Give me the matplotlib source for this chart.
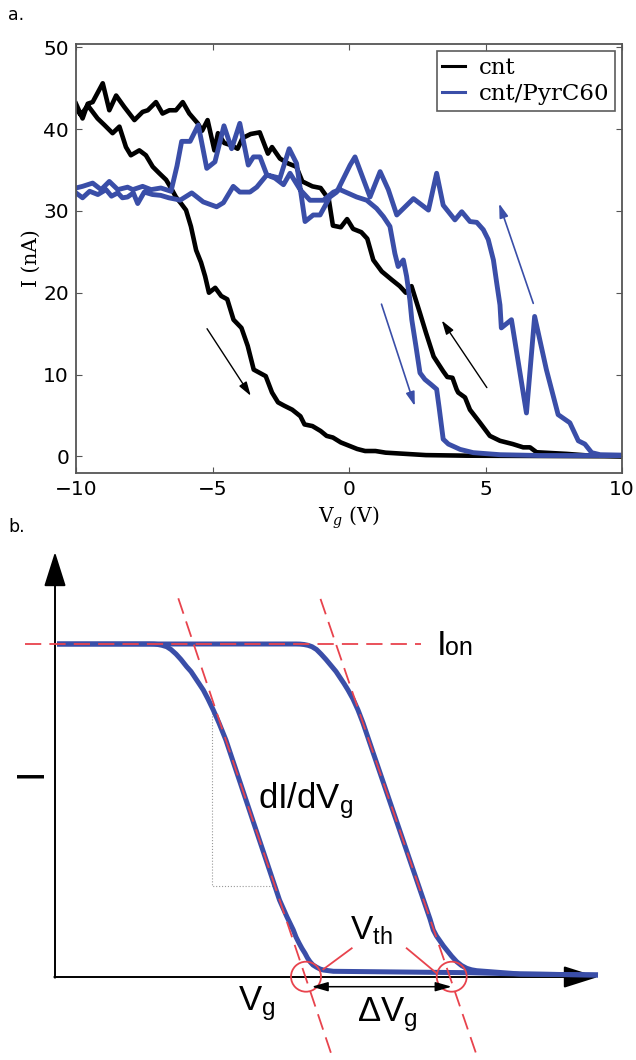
import numpy as np
import matplotlib
matplotlib.use('Agg')
import matplotlib.pyplot as plt
from matplotlib.lines import Line2D
from matplotlib.patches import Circle

plt.rcParams['mathtext.fontset'] = 'dejavuserif'

# ---- panel a: measured transfer curves (Vg in V, I in nA) ----
cnt_up_vg = [-10, -9.82, -9.57, -9.21, -8.96, -8.66, -8.41, -8.17, -7.99, -7.68, -7.44, -7.19,
             -6.95, -6.70, -6.52, -6.34, -6.15, -5.97, -5.79, -5.6, -5.42, -5.27, -5.13, -4.9,
             -4.68, -4.46, -4.23, -3.94, -3.71, -3.49, -3.27, -3.05, -2.82, -2.6, -2.38, -2.08,
             -1.78, -1.63, -1.34, -1.04, -0.82, -0.59, -0.3, 0, 0.3, 0.59, 0.97, 1.34, 2.08,
             2.82, 4.3, 6.5, 10]
cnt_up_i = [42.5, 41.7, 42.9, 41.3, 40.5, 39.5, 40.3, 37.8, 36.8, 37.4, 36.8, 35.4,
            34.6, 33.8, 32.8, 31.7, 30.9, 30.1, 28.1, 25.2, 23.7, 22.0, 20.0, 20.6,
            19.6, 19.2, 16.7, 15.7, 13.5, 10.6, 10.2, 9.8, 7.8, 6.6, 6.2, 5.7,
            4.9, 3.9, 3.7, 3.1, 2.5, 2.3, 1.7, 1.3, 0.9, 0.65, 0.65, 0.45, 0.3,
            0.15, 0.08, 0.05, 0.0]

cnt_down_vg = [-10, -9.76, -9.57, -9.39, -9.02, -8.78, -8.53, -8.23, -7.86, -7.56, -7.37, -7.07,
               -6.83, -6.58, -6.34, -6.09, -5.85, -5.54, -5.38, -5.18, -4.93, -4.8, -4.57, -4.3,
               -4.08, -3.9, -3.6, -3.27, -2.97, -2.82, -2.53, -2.23, -1.93, -1.71, -1.34, -1.04,
               -0.74, -0.59, -0.3, -0.07, 0.15, 0.45, 0.67, 0.89, 1.2, 1.56, 1.86, 2.08, 2.29,
               2.6, 2.82, 3.1, 3.45, 3.6, 3.79, 3.94, 4.0, 4.25, 4.43, 4.8, 5.16, 5.53, 6.0,
               6.38, 6.63, 6.87, 7.97, 8.77, 10]
cnt_down_i = [43.1, 41.3, 43.1, 43.3, 45.6, 42.3, 44.1, 42.7, 41.1, 42.1, 42.3, 43.3,
              41.9, 42.3, 42.3, 43.3, 41.9, 40.7, 39.8, 41.1, 37.4, 39.5, 38.3, 38.0,
              37.6, 38.9, 39.4, 39.6, 37.0, 37.8, 36.4, 35.8, 35.4, 33.6, 33.0, 32.8,
              31.4, 28.2, 28.0, 29.0, 27.8, 27.4, 26.6, 24.0, 22.6, 21.6, 20.8, 20.0, 20.8,
              17.5, 15.1, 12.2, 10.4, 9.7, 9.6, 8.2, 7.8, 7.2, 5.7, 4.1, 2.5, 1.9, 1.5,
              1.1, 1.1, 0.5, 0.3, 0.1, 0.05]

pyr_up_vg = [-10, -9.76, -9.5, -9.2, -8.9, -8.7, -8.47, -8.3, -8.11, -7.9, -7.74, -7.5, -7.2,
             -6.9, -6.6, -6.3, -6.19, -5.76, -5.34, -4.85, -4.6, -4.24, -4.0, -3.63, -3.38,
             -3.01, -2.71, -2.4, -2.16, -1.79, -1.43, -0.94, -0.57, -0.33, 0.28, 0.65, 1.01,
             1.26, 1.5, 1.68, 1.8, 1.99, 2.11, 2.23, 2.3, 2.45, 2.6, 2.78, 3.0, 3.21, 3.3,
             3.45, 3.64, 4.07, 4.55, 5.53, 7.0, 10]
pyr_up_i = [32.2, 31.6, 32.4, 32.0, 32.6, 31.8, 32.2, 31.6, 31.7, 32.2, 30.9, 32.3, 32.0,
            31.9, 31.6, 31.4, 31.3, 32.2, 31.1, 30.5, 31.0, 33.0, 32.3, 32.3, 32.9,
            34.4, 34.0, 33.2, 34.6, 32.6, 31.3, 31.3, 32.3, 32.6, 31.7, 31.3, 30.3,
            29.3, 28.1, 24.8, 23.2, 24.0, 22.0, 19.1, 16.7, 13.5, 10.2, 9.4, 8.8, 8.2, 6.0,
            2.1, 1.5, 0.85, 0.45, 0.2, 0.1, 0.1]

pyr_down_vg = [-10, -9.76, -9.39, -9.08, -8.78, -8.47, -8.11, -7.92, -7.56, -7.25, -6.89, -6.52,
               -6.3, -6.13, -5.82, -5.52, -5.21, -4.91, -4.58, -4.3, -4.0, -3.69, -3.5, -3.26,
               -3.01, -2.53, -2.19, -1.92, -1.61, -1.31, -1.06, -0.7, -0.45, 0.04, 0.22, 0.77,
               1.14, 1.44, 1.75, 2.36, 2.91, 3.21, 3.45, 3.88, 4.13, 4.43, 4.68, 4.92, 5.1,
               5.29, 5.41, 5.53, 5.58, 5.95, 6.5, 6.8, 7.23, 7.66, 8.09, 8.4, 8.64, 8.89, 9.2, 10]
pyr_down_i = [32.8, 33.0, 33.4, 32.6, 33.6, 32.6, 32.9, 32.6, 33.0, 32.6, 32.8, 32.4,
              35.5, 38.5, 38.5, 40.5, 35.2, 36.0, 40.4, 37.6, 40.7, 35.6, 36.6, 36.6,
              34.4, 34.0, 37.6, 35.8, 28.7, 29.5, 29.5, 31.7, 32.3, 35.6, 36.6, 31.7,
              34.8, 32.6, 29.5, 31.5, 30.1, 34.6, 30.7, 28.9, 29.9, 28.7, 28.6, 27.7, 26.5,
              24.0, 21.2, 18.5, 15.7, 16.7, 5.3, 17.1, 10.6, 5.1, 4.1, 1.9, 1.5, 0.45, 0.2, 0.15]

# sweep-direction arrows: (start Vg, start I, end Vg, end I)
cnt_arrows = [(-5.2, 15.6, -3.6, 7.4), (5.05, 8.4, 3.4, 16.6)]
pyr_arrows = [(1.19, 18.6, 2.41, 6.15), (6.75, 18.7, 5.5, 30.9)]

# ---- panel b: schematic (arbitrary units) ----
sch_left_vg = [0.2, 9.5, 9.9, 10.3, 10.7, 11.17, 11.6, 12.1, 12.6, 13.17, 13.6, 14.0, 14.4,
               14.83, 15.3, 15.83, 16.4, 17.09, 19.1, 21.11, 22.45, 23.2, 23.83, 24.1, 24.4,
               24.7, 25.0, 25.25, 25.5, 25.8, 26.17, 26.5, 26.83, 27.83, 34.5, 41.5, 46.5, 54.3]
sch_left_i = [33.3, 33.3, 33.29, 33.25, 33.17, 33.03, 32.75, 32.3, 31.75, 31.03, 30.55, 29.95,
              29.35, 28.7, 27.8, 26.7, 25.4, 23.7, 17.7, 11.7, 7.7, 6.0, 4.7, 4.0, 3.4,
              2.85, 2.37, 1.9, 1.53, 1.2, 0.97, 0.8, 0.7, 0.57, 0.5, 0.43, 0.3, 0.2]
sch_right_vg = [0.2, 24.1, 24.5, 24.9, 25.3, 25.7, 26.15, 26.6, 27.1, 27.7, 28.1, 28.5, 28.9,
                29.3, 29.8, 30.3, 30.8, 31.38, 33.43, 35.48, 36.85, 37.5, 37.83, 38.15, 38.5,
                38.85, 39.17, 39.65, 40.17, 40.65, 41.17, 41.65, 42.17, 46.5, 54.3]
sch_right_i = [33.3, 33.3, 33.29, 33.25, 33.17, 33.03, 32.75, 32.3, 31.75, 31.03, 30.55, 29.95,
               29.35, 28.7, 27.8, 26.7, 25.4, 23.7, 17.7, 11.7, 7.7, 5.8, 4.7, 4.1, 3.6,
               3.1, 2.7, 2.1, 1.53, 1.15, 0.87, 0.72, 0.63, 0.3, 0.2]
tangent_left = ([12.33, 27.83], [37.87, -8.3])
tangent_right = ([26.55, 42.33], [37.81, -8.3])
ion_line = ([-3.0, 36.6], [33.3, 33.3])
slope_box = ([15.67, 15.67, 22.0], [26.7, 9.1, 9.1])
vth_points = [(25.1, 0.03), (39.67, 0.03)]
vth_pointers = [([29.67, 26.83], [2.87, 0.77]), ([35.17, 38.17], [2.87, 0.37])]
dvg_span = (25.67, 39.67, -0.97)
axis_top = 42.5
axis_right = 54.3

BLUE = '#3a4ea8'
RED = '#e8434d'
SPINE = '#555555'

fig = plt.figure(figsize=(6.36, 10.60), dpi=100)

# ================= panel a =================
ax = fig.add_axes([76/636, 1 - 472.7/1060, 546/636, 428.7/1060])
ax.plot(cnt_up_vg + cnt_down_vg[::-1], cnt_up_i + cnt_down_i[::-1],
        color='black', lw=3.3, solid_joinstyle='round')
ax.plot(pyr_up_vg + pyr_down_vg[::-1], pyr_up_i + pyr_down_i[::-1],
        color=BLUE, lw=3.5, solid_joinstyle='round')

for (x0, y0, x1, y1) in cnt_arrows:
    ax.annotate('', xy=(x1, y1), xytext=(x0, y0),
                arrowprops=dict(arrowstyle='-|>,head_length=0.7,head_width=0.22',
                                mutation_scale=12, lw=1.0, color='black',
                                shrinkA=0, shrinkB=0))
for (x0, y0, x1, y1) in pyr_arrows:
    ax.annotate('', xy=(x1, y1), xytext=(x0, y0),
                arrowprops=dict(arrowstyle='-|>,head_length=0.7,head_width=0.22',
                                mutation_scale=12, lw=1.2, color=BLUE,
                                shrinkA=0, shrinkB=0))

ax.set_xlim(-10, 10)
ax.set_ylim(-2, 50.4)
ax.set_xticks([-10, -5, 0, 5, 10])
ax.set_yticks([0, 10, 20, 30, 40, 50])
ax.tick_params(direction='in', top=True, right=True, length=4, width=0.8,
               color=SPINE, labelsize=14.5, pad=5)
for s in ax.spines.values():
    s.set_color(SPINE)
    s.set_linewidth(1.3)

ax.set_xlabel(r'V$_g$ (V)', family='DejaVu Serif', fontsize=14.5, labelpad=4)
ax.set_ylabel('I (nA)', family='DejaVu Serif', fontsize=14.5, labelpad=2)

handles = [Line2D([], [], color='black', lw=2.2), Line2D([], [], color=BLUE, lw=2.2)]
leg = ax.legend(handles, ['cnt', 'cnt/PyrC60'], loc='upper right',
                prop={'family': 'DejaVu Serif', 'size': 16.5},
                frameon=True, fancybox=False, handlelength=1.0, handletextpad=0.6,
                labelspacing=0.2, borderpad=0.25, borderaxespad=0.3)
leg.get_frame().set_edgecolor('#333333')
leg.get_frame().set_linewidth(1.2)

fig.text(8/636, 1 - 20/1060, 'a.', fontsize=12.5, va='baseline', ha='left')
fig.text(8/636, 1 - 532/1060, 'b.', fontsize=12.5, va='baseline', ha='left')

# ================= panel b =================
bx = fig.add_axes([0, 0, 1, 540/1060])
bx.set_xlim(-5.5, 58.1)
bx.set_ylim(-8.3, 45.7)
bx.axis('off')

sans = 'Liberation Sans'

bx.annotate('', xy=(0, axis_top), xytext=(0, -0.07),
            arrowprops=dict(arrowstyle='-|>,head_length=0.6,head_width=0.19',
                            mutation_scale=36, lw=1.4, color='black',
                            shrinkA=0, shrinkB=0))
bx.annotate('', xy=(axis_right, 0), xytext=(-0.07, 0),
            arrowprops=dict(arrowstyle='-|>,head_length=0.6,head_width=0.19',
                            mutation_scale=36, lw=1.4, color='black',
                            shrinkA=0, shrinkB=0))

bx.plot(sch_left_vg, sch_left_i, color=BLUE, lw=3.6, solid_joinstyle='round',
        solid_capstyle='butt', zorder=3)
bx.plot(sch_right_vg, sch_right_i, color=BLUE, lw=3.6, solid_joinstyle='round',
        solid_capstyle='butt', zorder=3)

for xs, ys in (tangent_left, tangent_right, ion_line):
    bx.plot(xs, ys, color=RED, lw=1.3, linestyle=(0, (9, 4.5)), zorder=4)

bx.plot(slope_box[0], slope_box[1], color='#999999', lw=0.8, linestyle=':', zorder=2)

for cx, cy in vth_points:
    bx.add_patch(Circle((cx, cy), 1.5, fill=False, edgecolor=RED, lw=1.3, zorder=5))
for xs, ys in vth_pointers:
    bx.plot(xs, ys, color=RED, lw=1.3, zorder=5)

bx.annotate('', xy=(dvg_span[1], dvg_span[2]), xytext=(dvg_span[0], dvg_span[2]),
            arrowprops=dict(arrowstyle='<|-|>,head_length=0.7,head_width=0.2',
                            mutation_scale=14, lw=1.1, color='black',
                            shrinkA=0, shrinkB=0), zorder=5)

bx.text(38.2, 32.2, 'I', family=sans, fontsize=25, ha='left', va='baseline')
bx.text(39.0, 32.2, 'on', family=sans, fontsize=18, ha='left', va='baseline')
bx.text(20.3, 16.9, r'$\mathregular{dI/dV_g}$', family=sans, fontsize=25, ha='left', va='baseline')
bx.text(29.5, 3.77, r'$\mathregular{V_{th}}$', family=sans, fontsize=24, ha='left', va='baseline')
bx.text(18.3, -3.3, r'$\mathregular{V_g}$', family=sans, fontsize=25, ha='left', va='baseline')
bx.text(30.2, -4.47, r'Δ$\mathregular{V_g}$', family=sans, fontsize=25, ha='left', va='baseline')
bx.text(-2.35, 20.4, 'I', family=sans, fontsize=27, ha='center', va='center', rotation=90)

fig.savefig('out.png', dpi=100)
